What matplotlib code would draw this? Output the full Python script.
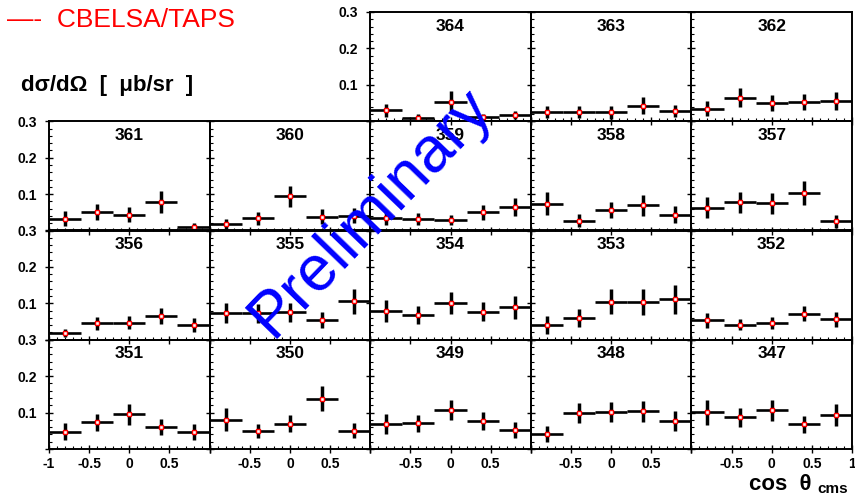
import matplotlib
matplotlib.use("Agg")
import matplotlib.pyplot as plt
from matplotlib.ticker import MultipleLocator, FixedLocator

plt.rcParams['font.family'] = ['Liberation Sans', 'DejaVu Sans']

# ---------------- data ----------------
cos_centers = [-0.8, -0.4, 0.0, 0.4, 0.8]
bin_half_width = 0.2

v364 = [0.030, 0.010, 0.054, 0.012, 0.017]; e364 = [0.017, 0.009, 0.028, 0.007, 0.011]
v363 = [0.026, 0.025, 0.025, 0.043, 0.028]; e363 = [0.016, 0.017, 0.018, 0.024, 0.017]
v362 = [0.035, 0.065, 0.051, 0.052, 0.056]; e362 = [0.020, 0.025, 0.022, 0.022, 0.025]

v361 = [0.032, 0.050, 0.043, 0.078, 0.010]; e361 = [0.021, 0.022, 0.021, 0.030, 0.010]
v360 = [0.017, 0.033, 0.094, 0.038, 0.041]; e360 = [0.014, 0.017, 0.029, 0.020, 0.020]
v359 = [0.035, 0.032, 0.028, 0.050, 0.064]; e359 = [0.020, 0.016, 0.014, 0.020, 0.025]
v358 = [0.074, 0.027, 0.056, 0.069, 0.043]; e358 = [0.031, 0.017, 0.023, 0.028, 0.023]
v357 = [0.062, 0.077, 0.075, 0.103, 0.025]; e357 = [0.029, 0.029, 0.029, 0.034, 0.018]

v356 = [0.018, 0.045, 0.047, 0.065, 0.040]; e356 = [0.011, 0.018, 0.018, 0.023, 0.019]
v355 = [0.073, 0.073, 0.075, 0.053, 0.106]; e355 = [0.028, 0.026, 0.025, 0.022, 0.034]
v354 = [0.079, 0.068, 0.101, 0.077, 0.089]; e354 = [0.030, 0.024, 0.030, 0.026, 0.032]
v353 = [0.041, 0.060, 0.105, 0.103, 0.111]; e353 = [0.025, 0.025, 0.034, 0.035, 0.040]
v352 = [0.053, 0.041, 0.046, 0.072, 0.056]; e352 = [0.021, 0.015, 0.016, 0.021, 0.020]

v351 = [0.048, 0.073, 0.095, 0.061, 0.048]; e351 = [0.024, 0.024, 0.029, 0.022, 0.022]
v350 = [0.081, 0.050, 0.070, 0.138, 0.050]; e350 = [0.031, 0.020, 0.023, 0.035, 0.021]
v349 = [0.068, 0.071, 0.107, 0.077, 0.052]; e349 = [0.027, 0.023, 0.028, 0.025, 0.021]
v348 = [0.041, 0.099, 0.102, 0.104, 0.076]; e348 = [0.021, 0.028, 0.028, 0.029, 0.027]
v347 = [0.101, 0.087, 0.106, 0.068, 0.094]; e347 = [0.034, 0.026, 0.029, 0.023, 0.030]

# (row, col, label, values, errors)
panels = [
    (0, 2, "364", v364, e364), (0, 3, "363", v363, e363), (0, 4, "362", v362, e362),
    (1, 0, "361", v361, e361), (1, 1, "360", v360, e360), (1, 2, "359", v359, e359),
    (1, 3, "358", v358, e358), (1, 4, "357", v357, e357),
    (2, 0, "356", v356, e356), (2, 1, "355", v355, e355), (2, 2, "354", v354, e354),
    (2, 3, "353", v353, e353), (2, 4, "352", v352, e352),
    (3, 0, "351", v351, e351), (3, 1, "350", v350, e350), (3, 2, "349", v349, e349),
    (3, 3, "348", v348, e348), (3, 4, "347", v347, e347),
]

y_tick_labels = ["", "0.1", "0.2", "0.3"]
x_tick_values = [-1, -0.5, 0, 0.5, 1]

# ---------------- layout ----------------
W, H = 855, 495
fig = plt.figure(figsize=(W / 100, H / 100), dpi=100)
L, R, T, B = 49, 852, 12, 449
cw = (R - L) / 5.0
rh = (B - T) / 4.0


def fx(px):
    return px / W


def fy(py):
    return 1 - py / H


for (r, c, lab, vals, errs) in panels:
    x0 = L + c * cw
    y1 = T + (r + 1) * rh
    ax = fig.add_axes([fx(x0), fy(y1), cw / W, rh / H])
    ax.set_facecolor("none")
    ax.set_xlim(-1, 1)
    ax.set_ylim(0, 0.3)
    for s in ax.spines.values():
        s.set_linewidth(1.4)
    ax.xaxis.set_major_locator(FixedLocator(x_tick_values))
    ax.xaxis.set_minor_locator(MultipleLocator(0.1))
    ax.yaxis.set_major_locator(FixedLocator([0, 0.1, 0.2, 0.3]))
    ax.yaxis.set_minor_locator(MultipleLocator(0.02))
    ax.tick_params(which="major", direction="inout", length=6, width=1.0,
                   labelsize=10, pad=3)
    ax.tick_params(which="minor", direction="in", length=2.5, width=0.8)
    ax.tick_params(axis="y", which="major", pad=6)

    if c == 0 or (r == 0 and c == 2):
        ax.set_yticklabels(y_tick_labels, fontweight="bold")
    else:
        ax.set_yticklabels([])
    if r == 3:
        xl = ["-1" if c == 0 else "", "-0.5", "0", "0.5", "1" if c == 4 else ""]
        ax.set_xticklabels(xl, fontweight="bold")
    else:
        ax.set_xticklabels([])

    ax.errorbar(cos_centers, vals, yerr=errs, fmt="none", ecolor="black",
                elinewidth=2.5, capsize=0, zorder=3)
    ax.errorbar(cos_centers, vals, xerr=bin_half_width, fmt="none", ecolor="black",
                elinewidth=1.9, capsize=0, zorder=3)
    ax.plot(cos_centers, vals, linestyle="none", marker="s", markersize=3.2,
            markerfacecolor="white", markeredgecolor="red", markeredgewidth=1.0,
            zorder=4)
    ax.text(0.5, 0.87, lab, transform=ax.transAxes, ha="center", va="center",
            fontsize=12.5, fontweight="bold")

# ---------------- texts ----------------
fig.text(fx(7), fy(27), "—-  CBELSA/TAPS", color="red", fontsize=19,
         ha="left", va="baseline")
fig.text(fx(21), fy(90.5), "dσ/dΩ  [  μb/sr  ]", fontsize=16, fontweight="bold",
         ha="left", va="baseline")
fig.text(fx(749), fy(490), "cos  θ", fontsize=16, fontweight="bold",
         ha="left", va="baseline")
fig.text(fx(817), fy(493), "cms", fontsize=11, fontweight="bold",
         ha="left", va="baseline")
fig.text(fx(371), fy(212), "Preliminary", color="blue", fontsize=46,
         rotation=46, ha="center", va="center")

fig.savefig("out.png", dpi=100)
